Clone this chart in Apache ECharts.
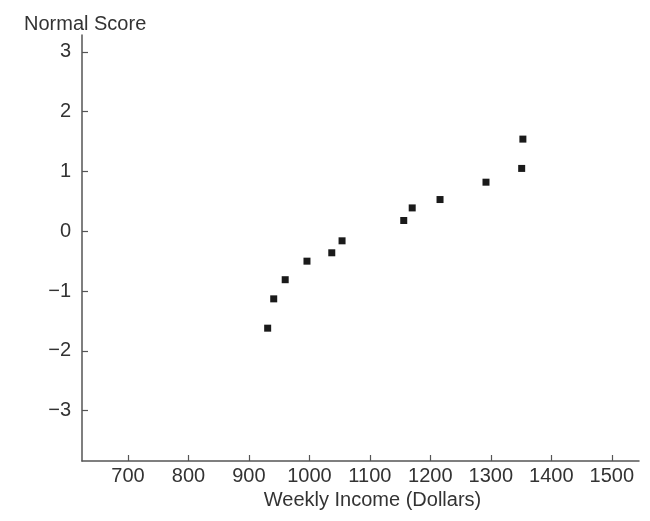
<!DOCTYPE html>
<html>
<head>
<meta charset="utf-8">
<script src="https://cdn.jsdelivr.net/npm/echarts@6/dist/echarts.min.js"></script>
<style>
  html, body { margin: 0; padding: 0; background: #fff; }
  #chart { width: 650px; height: 521px; }
</style>
</head>
<body>
<div id="chart"></div>
<script>
// 周收入 vs 正态分数
var income = [931, 941, 960, 996, 1037, 1054, 1156, 1170, 1216, 1292, 1351, 1353];
var normalScore = [-1.62, -1.13, -0.81, -0.50, -0.36, -0.16, 0.18, 0.39, 0.53, 0.82, 1.05, 1.54];
var xTicks = [700, 800, 900, 1000, 1100, 1200, 1300, 1400, 1500];
var yTicks = [-3, -2, -1, 0, 1, 2, 3];

function getScatterChart() {
  let chart = echarts.init(document.getElementById('chart'));
  let points = income.map(function (x, i) { return [x, normalScore[i]]; });
  let font = 'Liberation Sans, Arial, sans-serif';
  let axisColor = '#555';
  let textColor = '#333';
  let option = {
    animation: false,
    title: {
      text: 'Normal Score',
      left: 19,
      top: 9,
      textStyle: { fontFamily: font, fontSize: 20, fontWeight: 'normal', color: textColor }
    },
    grid: { left: 82, right: 11, top: 35, bottom: 60 },
    xAxis: {
      type: 'value',
      min: 624,
      max: 1545,
      name: 'Weekly Income (Dollars)',
      nameLocation: 'middle',
      nameGap: 27,
      nameTextStyle: { fontFamily: font, fontSize: 20, color: textColor, padding: [0, 0, 0, 24] },
      axisLine: { show: true, onZero: false, lineStyle: { color: axisColor, width: 1.5 } },
      axisTick: { show: true, inside: true, length: 6, customValues: xTicks, lineStyle: { color: axisColor, width: 1.2 } },
      axisLabel: {
        customValues: xTicks,
        margin: 5,
        fontFamily: font,
        fontSize: 20,
        color: textColor,
        formatter: function (v) { return String(v); }
      },
      splitLine: { show: false }
    },
    yAxis: {
      type: 'value',
      min: -3.84,
      max: 3.28,
      axisLine: { show: true, onZero: false, lineStyle: { color: axisColor, width: 1.5 } },
      axisTick: { show: true, inside: true, length: 6, customValues: yTicks, lineStyle: { color: axisColor, width: 1.2 } },
      axisLabel: {
        customValues: yTicks,
        margin: 11,
        fontFamily: font,
        fontSize: 20,
        color: textColor,
        formatter: function (v) { return v < 0 ? '\u2212' + Math.abs(v) : String(v); }
      },
      splitLine: { show: false }
    },
    series: [{
      type: 'scatter',
      symbol: 'rect',
      symbolSize: 7,
      itemStyle: { color: '#1a1a1a', opacity: 1 },
      data: points
    }]
  };
  chart.setOption(option);
}

getScatterChart();
</script>
</body>
</html>
